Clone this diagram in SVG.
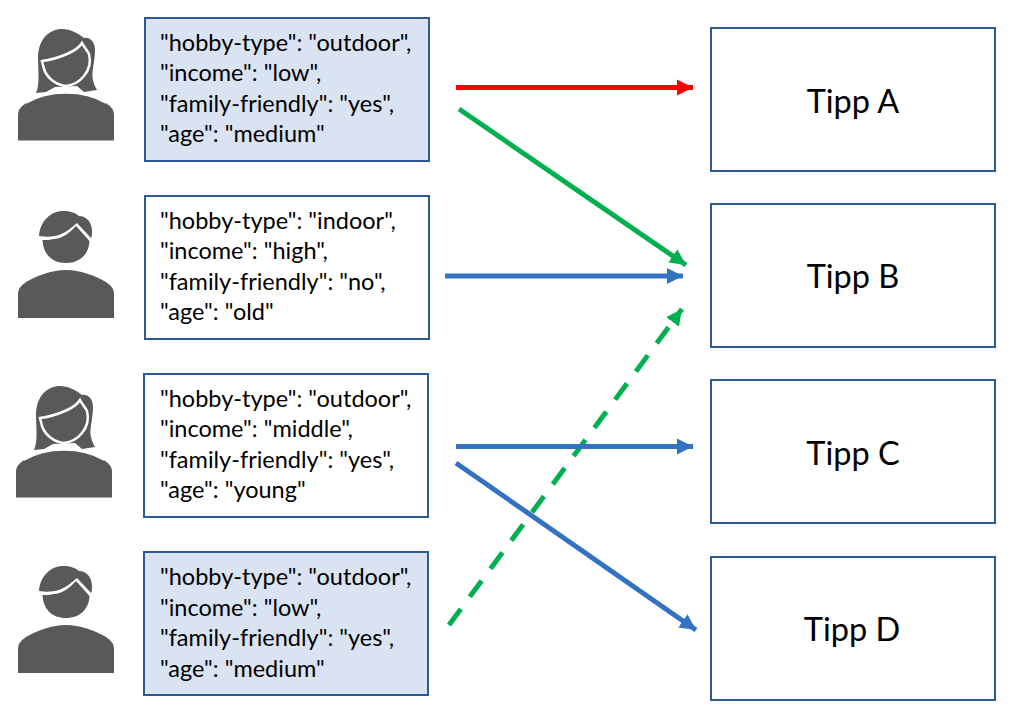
<svg xmlns="http://www.w3.org/2000/svg" width="1010" height="713" viewBox="0 0 1010 713">
<style>
.box{stroke:#2c5a94;stroke-width:2;fill:#fff}
.fill{fill:#d9e3f2}
.t{font-family:"Lato","Open Sans",sans-serif;font-size:23.5px;fill:#000}
.tip{font-family:"Lato","Open Sans",sans-serif;font-size:32.5px;fill:#000;text-anchor:middle}
.p{fill:#595959}
.c{fill:none;stroke-width:5}
</style>
<defs>
<marker id="ar" markerUnits="userSpaceOnUse" markerWidth="18" markerHeight="18" refX="16" refY="9" orient="auto"><path d="M0 1L16 9L0 17Z" fill="#ff0000"/></marker>
<marker id="ab" markerUnits="userSpaceOnUse" markerWidth="18" markerHeight="18" refX="16" refY="9" orient="auto"><path d="M0 1L16 9L0 17Z" fill="#3371c1"/></marker>
<marker id="ag" markerUnits="userSpaceOnUse" markerWidth="18" markerHeight="18" refX="16" refY="9" orient="auto"><path d="M0 1L16 9L0 17Z" fill="#00b050"/></marker>
<g id="woman">
<path class="p" d="M36 93C40 84 38 70 38 56C39 38 50 29 62 29C70 29 78 33 84 38C90 37 95 42 95 50C95 62 91 72 93 80C94 85 96 88 97 90L84 92L77 86L55 87L46 92Z"/>
<path class="p" d="M42 61C52 60 60 57 67 54C74 51 79 48 82 43C84 47 87 50 89 54C91 62 89 70 84 76C80 81 74 85 66 86C56 85 47 78 44 69Z" stroke="#fff" stroke-width="2.5"/>
<path class="p" d="M18 140.500V115C18 109 22 106 26 103C38 96 52 93 66 93C80 93 94 96 106 103C110 106 114 109 114 115V140.500Z"/>
<path fill="none" stroke="#fff" stroke-width="1.500" d="M26 103C38 96 52 93 66 93C80 93 94 96 106 103"/>
</g>
<g id="man">
<path class="p" d="M18 318V294C18 288 22 285 26 282C38 275 52 270 66 270C80 270 94 275 106 282C110 285 114 288 114 294V318Z"/>
<path class="p" d="M42.500 240C43 254 52 263 66 263C80 263 89 254 89.500 241L76 226C70 232 64 238 54 239C50 240 46 240 42.500 240Z"/>
<path class="p" d="M39 236C40 221 51 211 63 211C70 211 76 213 79 216C87 216 92 223 92 231C92 234 92 236 91 238L77 223C72 227 67 232 59 235C52 237 46 237 39 236Z"/>
</g>
</defs>
<g id="person1"><use href="#woman"/></g>
<g id="person2"><use href="#man"/></g>
<g id="person3"><use href="#woman" x="-2" y="357"/></g>
<g id="person4"><use href="#man" y="355"/></g>
<g id="data1"><rect class="box fill" x="145" y="18" width="284" height="143"/>
<text class="t" x="160" y="50.500">"hobby-type": "outdoor",</text><text class="t" x="160" y="81">"income": "low",</text><text class="t" x="160" y="111.500">"family-friendly": "yes",</text><text class="t" x="160" y="142">"age": "medium"</text></g>
<g id="data2"><rect class="box" x="145" y="196" width="284" height="143"/>
<text class="t" x="160" y="228.500">"hobby-type": "indoor",</text><text class="t" x="160" y="259">"income": "high",</text><text class="t" x="160" y="289.500">"family-friendly": "no",</text><text class="t" x="160" y="320">"age": "old"</text></g>
<g id="data3"><rect class="box" x="144" y="374" width="284" height="143"/>
<text class="t" x="160" y="406.500">"hobby-type": "outdoor",</text><text class="t" x="160" y="437">"income": "middle",</text><text class="t" x="160" y="467.500">"family-friendly": "yes",</text><text class="t" x="160" y="498">"age": "young"</text></g>
<g id="data4"><rect class="box fill" x="144" y="552" width="284" height="143"/>
<text class="t" x="160" y="585">"hobby-type": "outdoor",</text><text class="t" x="160" y="616">"income": "low",</text><text class="t" x="160" y="646">"family-friendly": "yes",</text><text class="t" x="160" y="677">"age": "medium"</text></g>
<g id="tippA"><rect class="box" x="711" y="28" width="284" height="143"/><text class="tip" x="853" y="113">Tipp A</text></g>
<g id="tippB"><rect class="box" x="711" y="204" width="284" height="143"/><text class="tip" x="853" y="288">Tipp B</text></g>
<g id="tippC"><rect class="box" x="711" y="380" width="284" height="143"/><text class="tip" x="853" y="465">Tipp C</text></g>
<g id="tippD"><rect class="box" x="711" y="557" width="284" height="143"/><text class="tip" x="852" y="641">Tipp D</text></g>
<g id="connectors">
<path class="c" stroke="#ff0000" marker-end="url(#ar)" d="M456 87.500H693"/>
<path class="c" stroke="#00b050" marker-end="url(#ag)" d="M459 109L686 265"/>
<path class="c" stroke="#3371c1" marker-end="url(#ab)" d="M445 276H683"/>
<path class="c" stroke="#00b050" stroke-dasharray="20 15" marker-end="url(#ag)" d="M449 625L682 309"/>
<path class="c" stroke="#3371c1" marker-end="url(#ab)" d="M456 446.500H693"/>
<path class="c" stroke="#3371c1" marker-end="url(#ab)" d="M456 463L696 630"/>
</g>
</svg>
